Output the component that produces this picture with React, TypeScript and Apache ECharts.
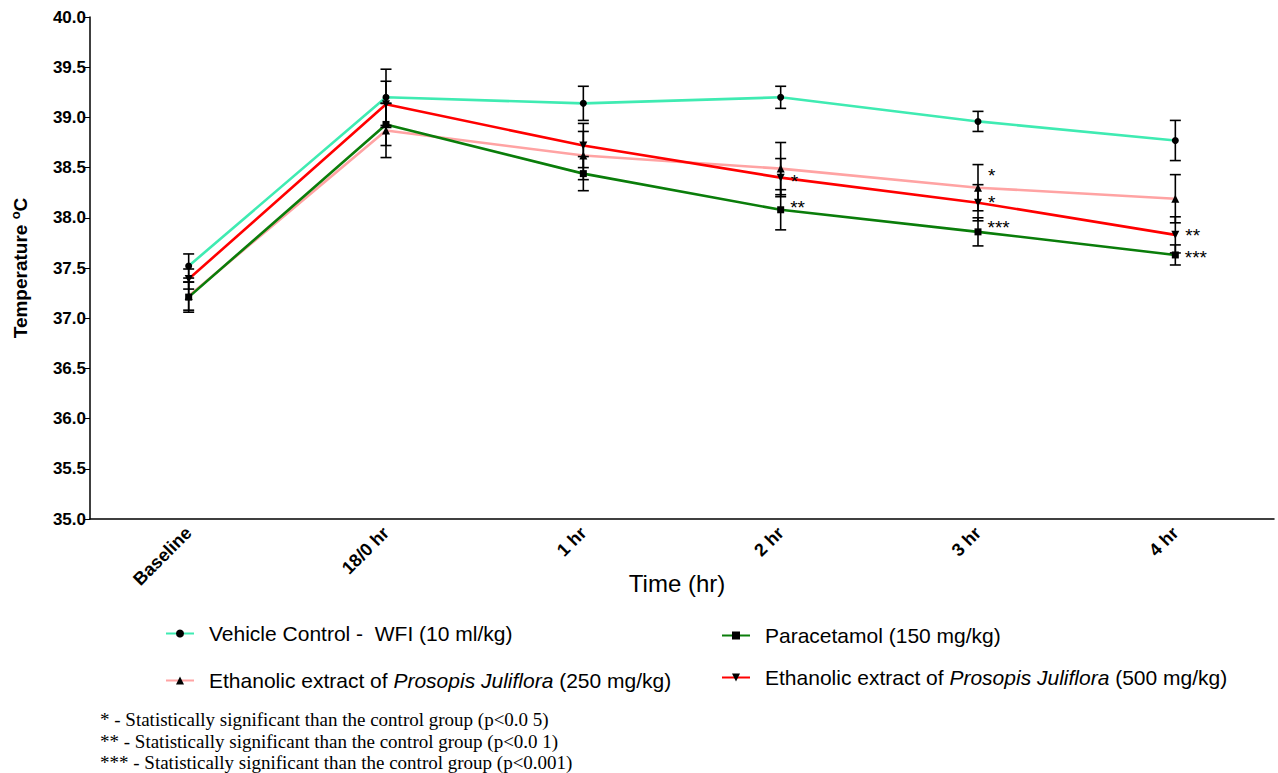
import React, { useEffect, useRef } from "react";
import * as echarts from "echarts";

const categories = ["Baseline", "18/0 hr", "1 hr", "2 hr", "3 hr", "4 hr"];
const seriesNames = [
  "Vehicle Control -  WFI (10 ml/kg)",
  "Paracetamol (150 mg/kg)",
  "Ethanolic extract of Prosopis Juliflora (250 mg/kg)",
  "Ethanolic extract of Prosopis Juliflora (500 mg/kg)",
];
const vehicleMean = [37.52, 39.2, 39.14, 39.2, 38.96, 38.77];
const vehicleSem = [0.12, 0.28, 0.17, 0.11, 0.1, 0.2];
const paraMean = [37.21, 38.93, 38.44, 38.08, 37.86, 37.63];
const paraSem = [0.15, 0.21, 0.17, 0.2, 0.14, 0.1];
const ext250Mean = [37.22, 38.87, 38.62, 38.49, 38.3, 38.19];
const ext250Sem = [0.14, 0.27, 0.24, 0.26, 0.23, 0.24];
const ext500Mean = [37.39, 39.13, 38.72, 38.4, 38.15, 37.83];
const ext500Sem = [0.1, 0.23, 0.22, 0.19, 0.18, 0.18];
// significance marks per point ("" = none)
const paraSig = ["", "", "", "**", "***", "***"];
const ext250Sig = ["", "", "", "", "*", ""];
const ext500Sig = ["", "", "", "*", "*", "**"];
const yTicks = { min: 35, max: 40, interval: 0.5 };
const footnotes = [
  "* - Statistically significant than the control group (p<0.0 5)",
  "** - Statistically significant than the control group (p<0.0 1)",
  "*** - Statistically significant than the control group (p<0.001)",
];

const colors = ["#3FEBB2", "#0A7D0A", "#FFA3A3", "#FF0000"];
const sans = "'Liberation Sans', Arial, sans-serif";

function withSig(mean: number[], sig: string[], offsets: number[][]) {
  return mean.map((v, i) =>
    sig[i]
      ? {
          value: v,
          label: {
            show: true,
            formatter: sig[i],
            position: "right",
            distance: 6,
            offset: offsets[i] || [0, 0],
            fontSize: 19,
            lineHeight: 16,
            fontFamily: sans,
            color: "#000",
          },
        }
      : v
  );
}

function errData(mean: number[], sem: number[]) {
  return mean.map((m, i) => [i, m - sem[i], m + sem[i]]);
}

export default function App() {
  const ref = useRef<HTMLDivElement>(null);
  useEffect(() => {
    if (!ref.current) return;
    const chart = echarts.init(ref.current, null, { renderer: "svg" });

    const errSeries = (mean: number[], sem: number[]) => ({
      type: "custom",
      z: 5,
      silent: true,
      data: errData(mean, sem),
      renderItem: (params: any, api: any) => {
        const x = api.value(0);
        const lo = api.coord([x, api.value(1)]);
        const hi = api.coord([x, api.value(2)]);
        const w = 5.5;
        const style = { stroke: "#000", lineWidth: 1.6 };
        return {
          type: "group",
          children: [
            { type: "line", shape: { x1: lo[0], y1: lo[1], x2: hi[0], y2: hi[1] }, style },
            { type: "line", shape: { x1: hi[0] - w, y1: hi[1], x2: hi[0] + w, y2: hi[1] }, style },
            { type: "line", shape: { x1: lo[0] - w, y1: lo[1], x2: lo[0] + w, y2: lo[1] }, style },
          ],
        };
      },
    });

    const lineSeries = (name: string, data: any[], color: string, symbol: string, size: number, rotate = 0) => ({
      type: "line",
      name,
      data,
      symbol,
      symbolSize: size,
      symbolRotate: rotate,
      z: 3,
      lineStyle: { color, width: 2.6 },
      itemStyle: { color: "#000" },
      label: { show: false },
    });

    const rich = {
      i: { fontStyle: "italic", fontSize: 21, fontFamily: sans, color: "#000" },
    };
    const fmt = (name: string) =>
      name.replace("Prosopis Juliflora", "{i|Prosopis Juliflora}");
    const legendText = {
      fontSize: 21,
      fontFamily: sans,
      color: "#000",
      padding: [0, 0, 0, 10],
      rich,
    };

    chart.setOption({
      animation: false,
      backgroundColor: "#fff",
      grid: { left: 90, right: 4, top: 17, bottom: 254 },
      legend: [
        {
          orient: "vertical",
          left: 160,
          top: 618,
          itemGap: 26,
          itemWidth: 28,
          itemHeight: 10,
          data: [seriesNames[0], seriesNames[2]],
          formatter: fmt,
          textStyle: legendText,
        },
        {
          orient: "vertical",
          left: 716,
          top: 620,
          itemGap: 21,
          itemWidth: 28,
          itemHeight: 10,
          data: [seriesNames[1], seriesNames[3]],
          formatter: fmt,
          textStyle: legendText,
        },
      ],
      xAxis: {
        type: "category",
        data: categories,
        boundaryGap: true,
        name: "Time (hr)",
        nameLocation: "middle",
        nameGap: 52,
        nameMoveOverlap: false,
        nameTextStyle: { fontSize: 24, fontFamily: sans, color: "#000", padding: [0, 10, 0, 0] },
        axisLine: { lineStyle: { color: "#000", width: 1.5 } },
        axisTick: { alignWithLabel: true, length: 6, lineStyle: { color: "#000" } },
        axisLabel: {
          rotate: 45,
          margin: 11,
          fontSize: 18,
          fontWeight: "bold",
          fontFamily: sans,
          color: "#000",
        },
        splitLine: { show: false },
      },
      yAxis: {
        type: "value",
        min: yTicks.min,
        max: yTicks.max,
        interval: yTicks.interval,
        name: "{a|Temperature }{s|o}{a|C}",
        nameLocation: "middle",
        nameGap: 59,
        nameMoveOverlap: false,
        nameRotate: 90,
        nameTextStyle: {
          rich: {
            a: { fontSize: 19, fontWeight: "bold", fontFamily: sans, color: "#000" },
            s: { fontSize: 13, fontWeight: "bold", fontFamily: sans, color: "#000", padding: [0, 0, 9, 0] },
          },
        },
        axisLine: { show: true, lineStyle: { color: "#000", width: 1.5 } },
        axisTick: { show: true, length: 5, lineStyle: { color: "#000" } },
        axisLabel: {
          margin: 4,
          fontSize: 17,
          fontWeight: "bold",
          fontFamily: sans,
          color: "#000",
          formatter: (v: number) => v.toFixed(1),
        },
        splitLine: { show: false },
      },
      series: [
        lineSeries(seriesNames[0], vehicleMean, colors[0], "circle", 7),
        lineSeries(seriesNames[2], withSig(ext250Mean, ext250Sig, [[], [], [], [], [0, -12], []]), colors[2], "triangle", 8),
        lineSeries(seriesNames[3], withSig(ext500Mean, ext500Sig, [[], [], [], [0, 4], [0, 0], [0, 1]]), colors[3], "triangle", 8, 180),
        lineSeries(seriesNames[1], withSig(paraMean, paraSig, [[], [], [], [0, -2], [0, -4], [0, 3]]), colors[1], "rect", 7),
        errSeries(vehicleMean, vehicleSem),
        errSeries(paraMean, paraSem),
        errSeries(ext250Mean, ext250Sem),
        errSeries(ext500Mean, ext500Sem),
      ],
      graphic: footnotes.map((t, i) => ({
        type: "text",
        left: 100,
        top: 710 + i * 21.5,
        style: {
          text: t,
          fontSize: 19,
          fontFamily: "'Liberation Serif', 'Times New Roman', serif",
          fill: "#000",
        },
      })),
    });
    return () => chart.dispose();
  }, []);
  return (
    <div
      ref={ref}
      style={{ position: "fixed", left: 0, top: 0, width: 1278, height: 773 }}
    />
  );
}
